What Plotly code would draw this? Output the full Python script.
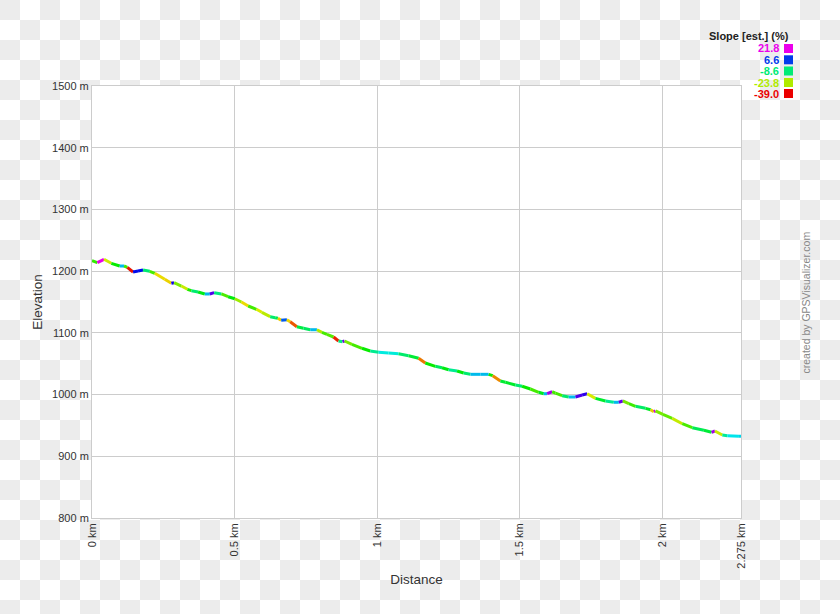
import colorsys
import plotly.graph_objects as go

# ---------------- data ----------------
distance_km = [0.0, 0.0186, 0.0421, 0.0677, 0.0972, 0.1123, 0.1239, 0.1439, 0.1614, 0.1789,
               0.2025, 0.2200, 0.2551, 0.2782, 0.2877, 0.3133, 0.3344, 0.3484, 0.3719, 0.3954,
               0.4130, 0.4281, 0.4537, 0.4772, 0.5007, 0.5239, 0.5474, 0.5765, 0.5954, 0.6246,
               0.6421, 0.6516, 0.6632, 0.6832, 0.6947, 0.7182, 0.7414, 0.7649, 0.7884, 0.8060,
               0.8235, 0.8467, 0.8642, 0.8782, 0.8853, 0.9112, 0.9463, 0.9754, 1.0046, 1.0396,
               1.0747, 1.1098, 1.1449, 1.1684, 1.2035, 1.2270, 1.2502, 1.2796, 1.3028, 1.3263,
               1.3614, 1.3905, 1.4046, 1.4316, 1.4491, 1.4842, 1.5077, 1.5368, 1.5660, 1.5835,
               1.5954, 1.6130, 1.6246, 1.6481, 1.6712, 1.6947, 1.7182, 1.7358, 1.7649, 1.8000,
               1.8291, 1.8467, 1.8607, 1.8818, 1.9053, 1.9404, 1.9579, 1.9695, 1.9754, 2.0011,
               2.0340, 2.0691, 2.1042, 2.1449, 2.1719, 2.1835, 2.2095, 2.2270, 2.2677, 2.2750]
elevation_m = [1216.9, 1213.7, 1219.2, 1212.7, 1208.3, 1208.3, 1206.2, 1198.6, 1200.2, 1201.8,
               1199.7, 1196.5, 1186.8, 1180.3, 1181.3, 1175.9, 1170.6, 1168.3, 1166.2, 1163.0,
               1163.0, 1165.1, 1163.0, 1158.6, 1155.3, 1150.0, 1143.5, 1138.2, 1133.3, 1126.2,
               1124.6, 1123.6, 1120.3, 1121.3, 1118.1, 1110.0, 1107.4, 1105.1, 1105.1, 1100.9,
               1097.7, 1093.3, 1086.8, 1085.7, 1086.8, 1081.4, 1075.0, 1070.6, 1068.5, 1067.4,
               1066.2, 1063.0, 1058.8, 1051.1, 1045.8, 1043.5, 1040.3, 1038.2, 1034.9, 1032.8,
               1032.8, 1032.8, 1030.6, 1022.0, 1019.9, 1015.5, 1013.4, 1009.0, 1003.7, 1001.4,
               1001.4, 1004.6, 1002.5, 998.2, 996.1, 996.1, 999.3, 1001.4, 993.9, 989.6,
               987.5, 987.5, 989.6, 985.2, 981.0, 977.7, 975.5, 972.2, 973.4, 968.0,
               961.5, 952.8, 946.3, 942.1, 938.9, 941.0, 934.5, 933.3, 932.4, 932.3]

legend_values = [21.8, 6.6, -8.6, -23.8, -39.0]
x_tickvals = [0, 0.5, 1, 1.5, 2, 2.275]
x_ticktext = ["0 km", "0.5 km", "1 km", "1.5 km", "2 km", "2.275 km"]
y_tickvals = [800, 900, 1000, 1100, 1200, 1300, 1400, 1500]
y_ticktext = ["800 m", "900 m", "1000 m", "1100 m", "1200 m", "1300 m", "1400 m", "1500 m"]

# ---------------- styling helpers ----------------
W, H = 840, 614
ML, MR, MT, MB = 92, 99, 86, 96
PW, PH = W - ML - MR, H - MT - MB
FONT = "Liberation Sans, Arial, sans-serif"
GRID = "#cccccc"
CHECK = "#ececec"
CELL = 20

S_MIN, S_MAX = min(legend_values), max(legend_values)


def slope_color(s):
    t = min(max((s - S_MIN) / (S_MAX - S_MIN), 0.0), 1.0)
    r, g, b = colorsys.hsv_to_rgb(t * 300.0 / 360.0, 1.0, 0.92)
    return "rgb(%d,%d,%d)" % (round(r * 255), round(g * 255), round(b * 255))


def px(xp):
    return (xp - ML) / PW


def py(yp):
    return 1 - (yp - MT) / PH


fig = go.Figure()

# slope-coloured profile segments
for i in range(len(distance_km) - 1):
    d0, d1 = distance_km[i], distance_km[i + 1]
    e0, e1 = elevation_m[i], elevation_m[i + 1]
    slope = (e1 - e0) / ((d1 - d0) * 1000.0) * 100.0
    fig.add_trace(go.Scatter(
        x=[d0, d1], y=[e0, e1], mode="lines",
        line=dict(color=slope_color(slope), width=3),
        hoverinfo="skip", showlegend=False))

shapes = []
# checkerboard background (transparent-image look), as one path in paper coords
parts = []
for r in range((H + CELL - 1) // CELL):
    for c in range((W + CELL - 1) // CELL):
        if (r + c) % 2 == 0:
            x0, x1 = px(c * CELL), px(min((c + 1) * CELL, W))
            y0, y1 = py(r * CELL), py(min((r + 1) * CELL, H))
            parts.append("M%.5f,%.5fH%.5fV%.5fH%.5fZ" % (x0, y0, x1, y1, x0))
shapes.append(dict(type="path", xref="paper", yref="paper", path="".join(parts),
                   fillcolor=CHECK, line=dict(width=0), layer="below"))
# white plot area over it
shapes.append(dict(type="rect", xref="paper", yref="paper", x0=0, x1=1, y0=0, y1=1,
                   fillcolor="#ffffff", line=dict(width=0), layer="below"))

annotations = []
# legend title
annotations.append(dict(xref="paper", yref="paper", x=px(791), y=py(36),
                        xanchor="right", yanchor="middle", showarrow=False,
                        text="<b>Slope [est.] (%)</b>",
                        font=dict(family=FONT, size=11, color="#222222")))
row_y = [48.5, 59.8, 71.0, 82.5, 93.5]
for v, yy in zip(legend_values, row_y):
    c = slope_color(v)
    annotations.append(dict(xref="paper", yref="paper", x=px(781), y=py(yy),
                            xanchor="right", yanchor="middle", showarrow=False,
                            text="<b>%.1f</b>" % v,
                            font=dict(family=FONT, size=11, color=c)))
    shapes.append(dict(type="rect", xref="paper", yref="paper",
                       x0=px(784), x1=px(793), y0=py(yy - 4.5), y1=py(yy + 4.5),
                       fillcolor=c, line=dict(width=0)))
# credit
annotations.append(dict(xref="paper", yref="paper", x=px(805), y=py(302.5),
                        xanchor="center", yanchor="middle", showarrow=False,
                        textangle=-90, text="created by GPSVisualizer.com",
                        font=dict(family=FONT, size=10.5, color="#888888")))

fig.update_layout(
    width=W, height=H,
    margin=dict(l=ML, r=MR, t=MT, b=MB, pad=0),
    paper_bgcolor="#ffffff", plot_bgcolor="#ffffff",
    font=dict(family=FONT, size=11, color="#333333"),
    showlegend=False,
    annotations=annotations,
    shapes=shapes,
    xaxis=dict(range=[0, 2.275], tickvals=x_tickvals, ticktext=x_ticktext,
               tickangle=-90, showgrid=True, gridcolor=GRID, gridwidth=1,
               showline=True, linecolor=GRID, linewidth=1, mirror=True,
               zeroline=False, ticks="", automargin=False,
               tickfont=dict(family=FONT, size=11, color="#333333"),
               title=dict(text="Distance", standoff=6,
                          font=dict(family=FONT, size=13.5, color="#333333"))),
    yaxis=dict(range=[800, 1500], tickvals=y_tickvals, ticktext=y_ticktext,
               showgrid=True, gridcolor=GRID, gridwidth=1,
               showline=True, linecolor=GRID, linewidth=1, mirror=True,
               zeroline=False, ticks="", automargin=False,
               tickfont=dict(family=FONT, size=11, color="#333333"),
               title=dict(text="Elevation", standoff=6,
                          font=dict(family=FONT, size=13.5, color="#333333"))),
)

fig.write_html("out.html")
